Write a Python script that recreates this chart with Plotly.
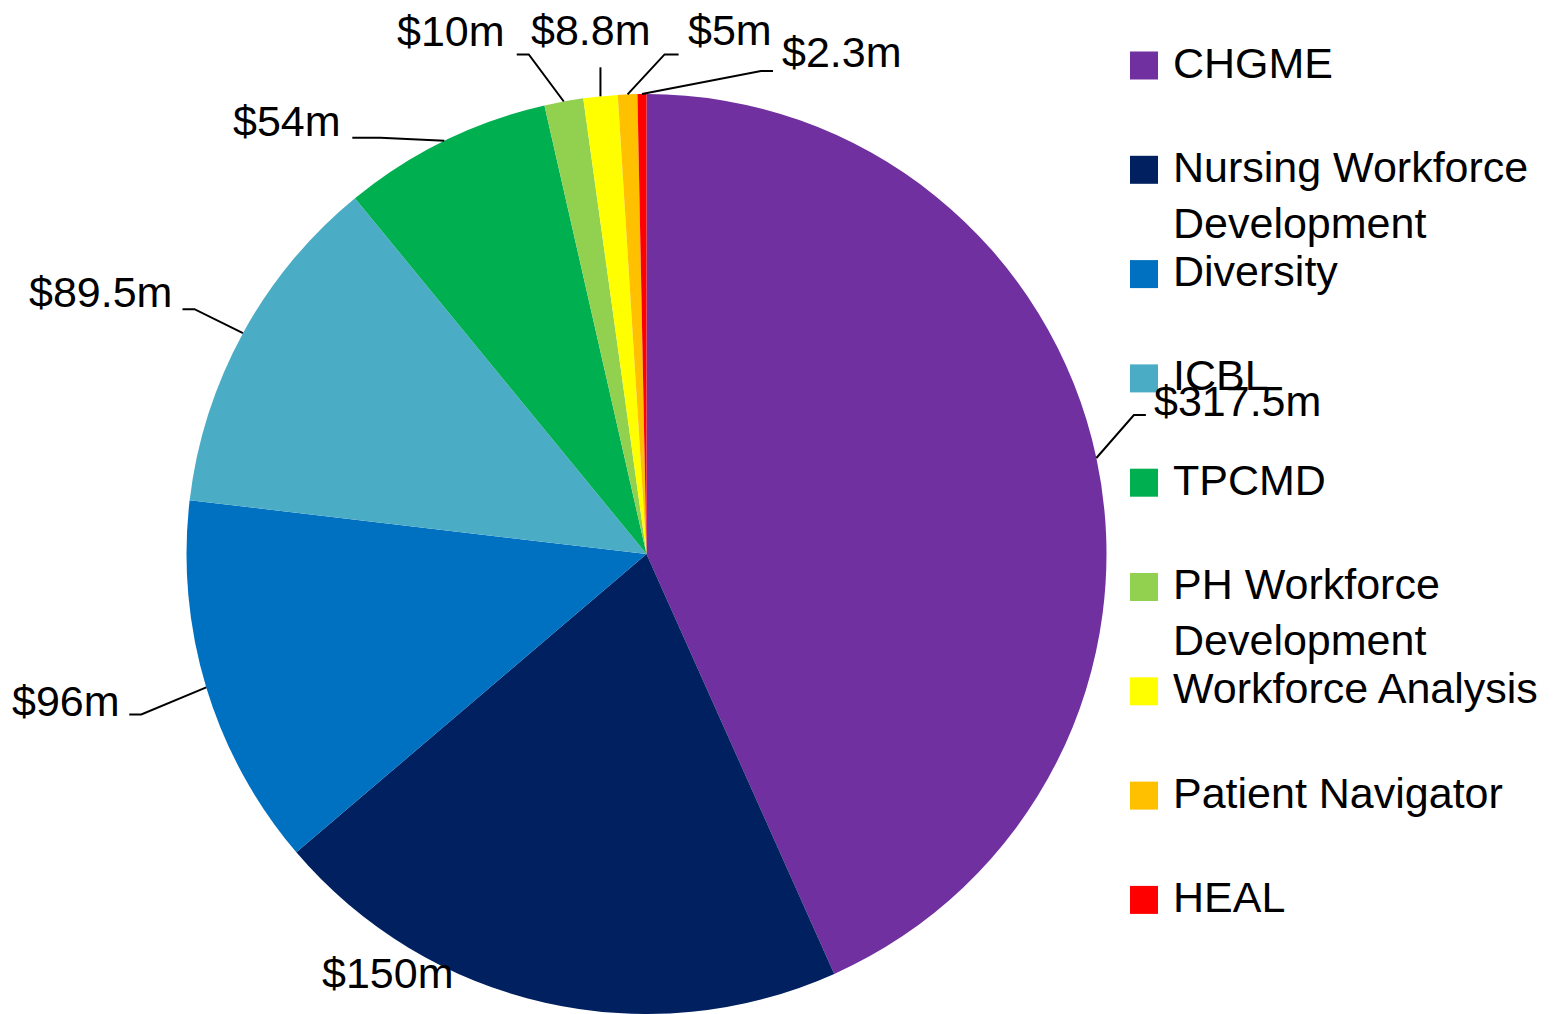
import math
import plotly.graph_objects as go

W, H = 1560, 1014

# ---- data ----
categories = ["CHGME", "Nursing Workforce Development", "Diversity", "ICBL", "TPCMD",
              "PH Workforce Development", "Workforce Analysis", "Patient Navigator", "HEAL"]
values = [317.5, 150, 96, 89.5, 54, 10, 8.8, 5, 2.3]
value_labels = ["$317.5m", "$150m", "$96m", "$89.5m", "$54m", "$10m", "$8.8m", "$5m", "$2.3m"]
legend_labels = ["CHGME", "Nursing Workforce<br>Development", "Diversity", "ICBL", "TPCMD",
                 "PH Workforce<br>Development", "Workforce Analysis", "Patient Navigator", "HEAL"]
colors = ["#7030A0", "#002060", "#0070C0", "#4BACC6", "#00B050",
          "#92D050", "#FFFF00", "#FFC000", "#FF0000"]

# ---- label layout (offsets in px relative to slice's edge anchor) ----
# (elbow_dx, elbow_dy, tail_dx, text_dx, text_dy, leader, side)
label_layout = [
    (37.5, -43, 12, 6, -14, True, "left"),
    (0, 0, 0, -158, -30, False, "center"),
    (-65, 27, -12, -7, -13, True, "right"),
    (-48.5, -24, -12, -8, -17, True, "right"),
    (-64, -3, -28, -9, -17, True, "right"),
    (-35, -47, -12, -10, -24, True, "right"),
    (0, -29, 0, -9, -37, True, "center"),
    (37, -40, 14, 7, -24, True, "left"),
    (119, -23, 12, 7, -19, True, "left"),
]

FONT = "Liberation Sans, Arial, sans-serif"
FS = 43

dom_x = [185.5 / W, 1107.5 / W]
dom_y = [0.0, 1 - 94 / H]

def px(x):
    return x / W

def py(y):
    return 1 - y / H

fig = go.Figure()
fig.add_trace(go.Pie(
    labels=categories, values=values, sort=False, direction="clockwise", rotation=0,
    marker=dict(colors=colors, line=dict(width=0)), textinfo="none", hoverinfo="label+value",
    showlegend=False, domain=dict(x=dom_x, y=dom_y),
))

# pie geometry in pixels
cx = (dom_x[0] + dom_x[1]) / 2 * W
cy = (1 - (dom_y[0] + dom_y[1]) / 2) * H
r = min((dom_x[1] - dom_x[0]) * W, (dom_y[1] - dom_y[0]) * H) / 2

total = sum(values)
shapes = []
annotations = []

# legend (drawn first so value labels sit on top)
leg_y0, leg_step = 65.5, 104.3
for i, (lab, col) in enumerate(zip(legend_labels, colors)):
    yc = leg_y0 + leg_step * i
    shapes.append(dict(type="rect", xref="paper", yref="paper",
                       x0=px(1130), x1=px(1158), y0=py(yc - 14), y1=py(yc + 14),
                       fillcolor=col, line=dict(width=0)))
    annotations.append(dict(x=px(1171), y=py(yc - 29), xref="paper", yref="paper",
                            text=lab, showarrow=False, xanchor="left", yanchor="top", align="left",
                            font=dict(family=FONT, size=FS, color="black")))

cum = 0.0
for v, lab, lay in zip(values, value_labels, label_layout):
    mid = (cum + v / 2) / total * 2 * math.pi
    cum += v
    ax_ = cx + r * math.sin(mid)
    ay_ = cy - r * math.cos(mid)
    edx, edy, tdx, txdx, txdy, leader, side = lay
    ex, ey = ax_ + edx, ay_ + edy
    tx = ex + tdx
    if leader:
        path = f"M {px(ax_)},{py(ay_)} L {px(ex)},{py(ey)} L {px(tx)},{py(ey)}"
        shapes.append(dict(type="path", xref="paper", yref="paper", path=path,
                           line=dict(color="black", width=2), layer="above"))
    if side == "center":
        lx = ax_ + txdx
        ly = (ey + txdy) if leader else (ay_ + txdy)
    else:
        lx, ly = tx + txdx, ey + txdy
    annotations.append(dict(x=px(lx), y=py(ly), xref="paper", yref="paper", text=lab,
                            showarrow=False, xanchor=side, yanchor="middle",
                            font=dict(family=FONT, size=FS, color="black")))

fig.update_layout(
    width=W, height=H, margin=dict(l=0, r=0, t=0, b=0),
    paper_bgcolor="white", plot_bgcolor="white",
    shapes=shapes, annotations=annotations, showlegend=False,
)
fig.write_html("out.html",
               config={"displayModeBar": False},
               post_script="document.body.style.margin='0';document.body.style.overflow='hidden';")
